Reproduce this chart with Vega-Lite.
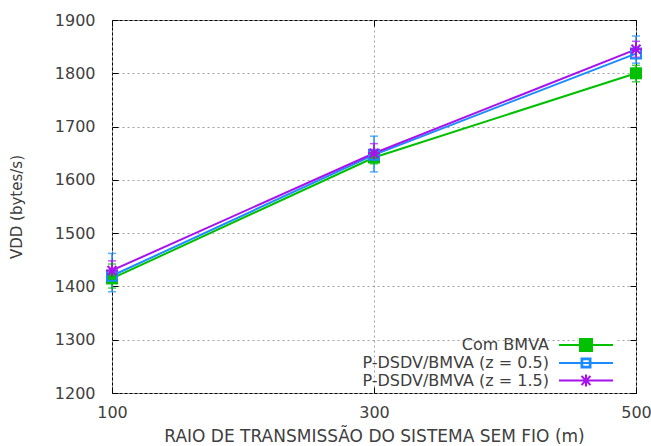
{
  "$schema": "https://vega.github.io/schema/vega-lite/v6.json",
  "width": 524,
  "height": 373,
  "autosize": {"type": "none"},
  "padding": {"left": 112, "top": 20, "right": 15, "bottom": 53},
  "background": "white",
  "config": {
    "view": {"stroke": "black", "strokeWidth": 1},
    "font": "DejaVu Sans",
    "axis": {
      "domain": false,
      "tickColor": "black",
      "tickSize": -6,
      "tickWidth": 1,
      "gridColor": "#a0a0a0",
      "gridDash": [2, 3],
      "gridWidth": 1,
      "labelFont": "DejaVu Sans",
      "labelFontSize": 16,
      "labelColor": "#404040",
      "labelFlush": false,
      "titleFont": "DejaVu Sans",
      "titleFontSize": 16,
      "titleFontWeight": "normal",
      "titleColor": "#404040"
    }
  },
  "data": {
    "values": [
      {"serie": "Com BMVA", "x": 100, "y": 1415, "ylo": 1397, "yhi": 1442},
      {"serie": "Com BMVA", "x": 300, "y": 1642, "ylo": 1630, "yhi": 1655},
      {"serie": "Com BMVA", "x": 500, "y": 1800, "ylo": 1784, "yhi": 1815},
      {"serie": "P-DSDV/BMVA (z = 0.5)", "x": 100, "y": 1420, "ylo": 1390, "yhi": 1462},
      {"serie": "P-DSDV/BMVA (z = 0.5)", "x": 300, "y": 1647, "ylo": 1615, "yhi": 1682},
      {"serie": "P-DSDV/BMVA (z = 0.5)", "x": 500, "y": 1837, "ylo": 1819, "yhi": 1870},
      {"serie": "P-DSDV/BMVA (z = 1.5)", "x": 100, "y": 1430, "ylo": 1412, "yhi": 1448},
      {"serie": "P-DSDV/BMVA (z = 1.5)", "x": 300, "y": 1650, "ylo": 1638, "yhi": 1668},
      {"serie": "P-DSDV/BMVA (z = 1.5)", "x": 500, "y": 1845, "ylo": 1830, "yhi": 1860}
    ]
  },
  "resolve": {"axis": {"x": "independent", "y": "independent"}},
  "encoding": {
    "color": {"field": "serie", "type": "nominal",
      "scale": {"domain": ["Com BMVA", "P-DSDV/BMVA (z = 0.5)", "P-DSDV/BMVA (z = 1.5)"], "range": ["#00c000", "#1a8cff", "#a810f0"]},
      "legend": {
        "title": null,
        "orient": "none",
        "legendX": 466,
        "legendY": 317,
        "padding": 0,
        "symbolSize": 144,
        "symbolStrokeWidth": 2,
        "labelAlign": "right",
        "labelOffset": -45,
        "labelFont": "DejaVu Sans",
        "labelFontSize": 16,
        "labelColor": "#404040",
        "labelLimit": 400,
        "rowPadding": -1.5,
        "fillColor": "white",
        "encode": {
          "symbols": {
            "update": {
              "shape": {"signal": "datum.value === 'Com BMVA' ? 'M-4.5,0H4.5M-1,-1H1V1H-1Z' : (datum.value === 'P-DSDV/BMVA (z = 0.5)' ? 'M-4.5,0H-0.75M0.75,0H4.5M-0.75,-0.75H0.75V0.75H-0.75ZM-0.62,-0.62V0.62H0.62V-0.62ZM-0.62,0H0.62' : 'M-4.5,0H4.5M0,-1V1M-0.75,-0.75L0.75,0.75M-0.75,0.75L0.75,-0.75')"},
              "fillOpacity": {"value": 1},
              "strokeOpacity": {"value": 1}
            }
          }
        }
      }
    }
  },
  "layer": [
    {
      "mark": {"type": "rule", "strokeWidth": 1.5},
      "encoding": {
        "x": {"field": "x", "type": "quantitative", "scale": {"domain": [100, 500]},
          "axis": {"values": [100, 300, 500], "grid": true, "labelPadding": 17, "title": "RAIO DE TRANSMISSÃO DO SISTEMA SEM FIO (m)", "titleFontSize": 17, "titlePadding": 8}},
        "y": {"field": "ylo", "type": "quantitative", "scale": {"domain": [1200, 1900]},
          "axis": {"values": [1200, 1300, 1400, 1500, 1600, 1700, 1800, 1900], "format": "d", "grid": true, "labelPadding": 23, "title": "VDD (bytes/s)", "titleFontSize": 15, "titlePadding": 30}},
        "y2": {"field": "yhi"}
      }
    },
    {
      "mark": {"type": "tick", "orient": "horizontal", "size": 8, "thickness": 1.5},
      "encoding": {
        "x": {"field": "x", "type": "quantitative",
          "axis": {"orient": "top", "values": [100, 300, 500], "labels": false, "grid": false, "title": null}},
        "y": {"field": "ylo", "type": "quantitative",
          "axis": {"orient": "right", "values": [1200, 1300, 1400, 1500, 1600, 1700, 1800, 1900], "labels": false, "grid": false, "title": null}}
      }
    },
    {
      "mark": {"type": "tick", "orient": "horizontal", "size": 8, "thickness": 1.5},
      "encoding": {
        "x": {"field": "x", "type": "quantitative", "axis": null},
        "y": {"field": "yhi", "type": "quantitative", "axis": null}
      }
    },
    {
      "mark": {"type": "line", "strokeWidth": 2},
      "encoding": {
        "x": {"field": "x", "type": "quantitative", "axis": null},
        "y": {"field": "y", "type": "quantitative", "axis": null}
      }
    },
    {
      "transform": [{"filter": "datum.serie === 'Com BMVA'"}],
      "mark": {"type": "square", "size": 144, "filled": true, "opacity": 1},
      "encoding": {
        "x": {"field": "x", "type": "quantitative", "axis": null},
        "y": {"field": "y", "type": "quantitative", "axis": null}
      }
    },
    {
      "transform": [{"filter": "datum.serie === 'P-DSDV/BMVA (z = 0.5)'"}],
      "mark": {"type": "square", "size": 100, "filled": false, "strokeWidth": 2, "opacity": 1},
      "encoding": {
        "x": {"field": "x", "type": "quantitative", "axis": null},
        "y": {"field": "y", "type": "quantitative", "axis": null}
      }
    },
    {
      "transform": [{"filter": "datum.serie === 'P-DSDV/BMVA (z = 1.5)'"}],
      "mark": {"type": "point", "shape": "M-1,0H1M0,-1V1M-0.75,-0.75L0.75,0.75M-0.75,0.75L0.75,-0.75", "size": 144, "filled": false, "strokeWidth": 2, "opacity": 1},
      "encoding": {
        "x": {"field": "x", "type": "quantitative", "axis": null},
        "y": {"field": "y", "type": "quantitative", "axis": null}
      }
    }
  ]
}
